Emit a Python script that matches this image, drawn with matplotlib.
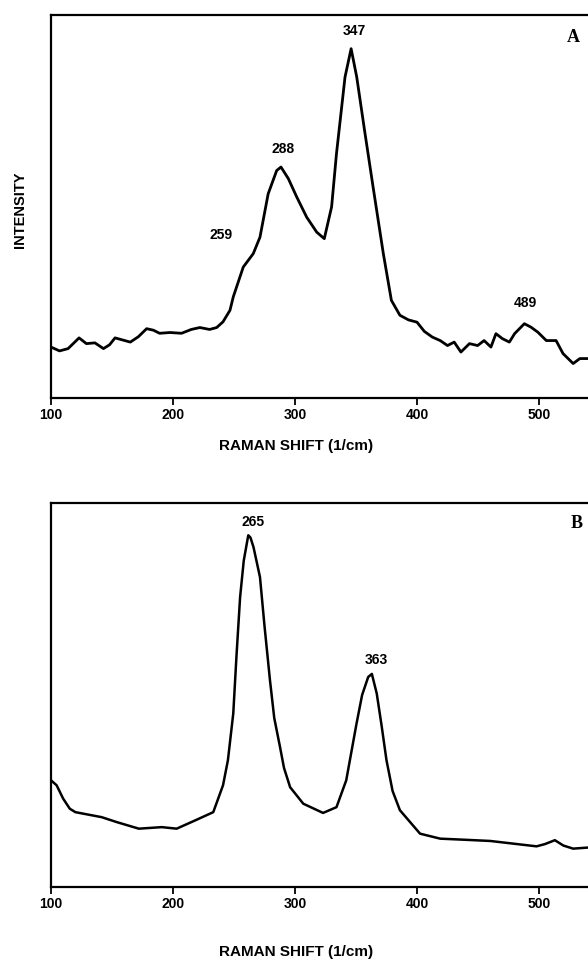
import numpy as np
import matplotlib.pyplot as plt

# Spectre A (intensité relative, 0 = axe, 100 = cadre)
shift_a = [100, 107, 114, 123, 129, 136, 143, 148, 152.5, 165, 171.6, 178.4, 184, 189,
           197.5, 207, 215, 222, 230, 235.8, 241, 246.7, 249.4, 257.6, 265.8, 271.3,
           278, 285, 288.5, 294.5, 301.4, 309.6, 317.8, 324, 330, 334, 341, 346,
           350.6, 357, 364, 372.4, 379, 386, 393, 400, 406, 412.6, 419, 425, 430.5,
           436, 443, 449.7, 455, 460.6, 464.7, 470, 475.7, 480, 488, 493.4, 499, 506,
           514, 519.7, 528, 533.5, 541.5]
int_a = [13.4, 12.4, 13.0, 15.8, 14.3, 14.5, 13.0, 14.0, 15.8, 14.7, 16.1, 18.2, 17.8, 17.0,
         17.2, 17.0, 18.0, 18.5, 18.0, 18.5, 20.0, 23.0, 26.5, 34.3, 37.8, 42.1,
         53.4, 59.5, 60.4, 57.4, 52.6, 47.3, 43.4, 41.7, 50.0, 63.9, 83.9, 91.3,
         83.9, 70.0, 55.2, 37.8, 25.6, 21.7, 20.5, 19.9, 17.5, 16.0, 15.1, 13.8, 14.7,
         12.1, 14.3, 13.8, 15.1, 13.4, 16.9, 15.6, 14.7, 16.9, 19.5, 18.6, 17.3, 15.1,
         15.1, 11.7, 9.1, 10.4, 10.4]

# Spectre B
shift_b = [100, 104.6, 110, 115.4, 120, 141.5, 154, 172, 190.8, 203, 218.5, 233, 241, 245,
           249.4, 252, 255, 258, 261.7, 263.5, 266, 271.3, 275, 279.5, 283, 287.7, 291,
           296, 306.8, 323, 334, 342, 350.4, 355, 360, 363, 367, 371, 375, 380, 386,
           402.5, 419, 440, 460, 479, 498, 505, 513, 520, 528, 541]
int_b = [27.8, 26.5, 23.0, 20.4, 19.5, 18.2, 16.9, 15.2, 15.6, 15.2, 17.4, 19.5, 26.5, 33.0,
         45.2, 60.0, 75.5, 85.0, 91.6, 91.0, 88.5, 80.7, 68.0, 53.8, 44.0, 36.5, 31.0,
         26.0, 21.7, 19.3, 20.8, 27.8, 42.5, 50.0, 54.7, 55.5, 50.4, 42.0, 33.0, 25.0, 20.0,
         13.9, 12.6, 12.3, 12.0, 11.3, 10.6, 11.2, 12.2, 10.8, 10.0, 10.3]

# Étiquettes des pics
pics_a = [(239, 42.6, '259'), (290, 65, '288'), (349, 95.8, '347'), (489, 25, '489')]
pics_b = [(266, 95, '265'), (367, 59, '363')]

ticks = [100, 200, 300, 400, 500]
sans = 'Liberation Sans'

fig = plt.figure(figsize=(5.88, 9.6), dpi=100)
ax1 = fig.add_axes([51/588, 0.585, 549/588, 0.399])
ax2 = fig.add_axes([51/588, 0.076, 549/588, 0.400])

for ax, x, y, pics, lettre, lw in [(ax1, shift_a, int_a, pics_a, 'A', 2.0),
                                   (ax2, shift_b, int_b, pics_b, 'B', 1.8)]:
    ax.plot(x, y, color='black', lw=lw)
    ax.set_xlim(100, 550)
    ax.set_ylim(0, 100)
    ax.set_xticks(ticks)
    ax.set_xticklabels([str(t) for t in ticks], fontfamily=sans, fontweight='bold', fontsize=10)
    ax.set_yticks([])
    ax.tick_params(axis='x', direction='out', length=5, width=1.3, pad=2)
    for s in ax.spines.values():
        s.set_linewidth(1.6)
    for px, py, txt in pics:
        ax.text(px, py, txt, ha='center', va='center', fontfamily=sans,
                fontweight='bold', fontsize=10)
    yl = 94.3 if lettre == 'A' else 94.7
    xl = 528 if lettre == 'A' else 531
    ax.text(xl, yl, lettre, ha='center', va='center', fontfamily='Liberation Serif',
            fontweight='bold', fontsize=13)

fig.text(20/588, 1 - 210/960, 'INTENSITY', rotation=90, ha='center', va='center',
         fontfamily=sans, fontweight='bold', fontsize=10.5)
fig.text(296/588, 1 - 446/960, 'RAMAN SHIFT (1/cm)', ha='center', va='center',
         fontfamily=sans, fontweight='bold', fontsize=11)
fig.text(296/588, 1 - 952/960, 'RAMAN SHIFT (1/cm)', ha='center', va='center',
         fontfamily=sans, fontweight='bold', fontsize=11)

plt.savefig('out.png', dpi=100)
